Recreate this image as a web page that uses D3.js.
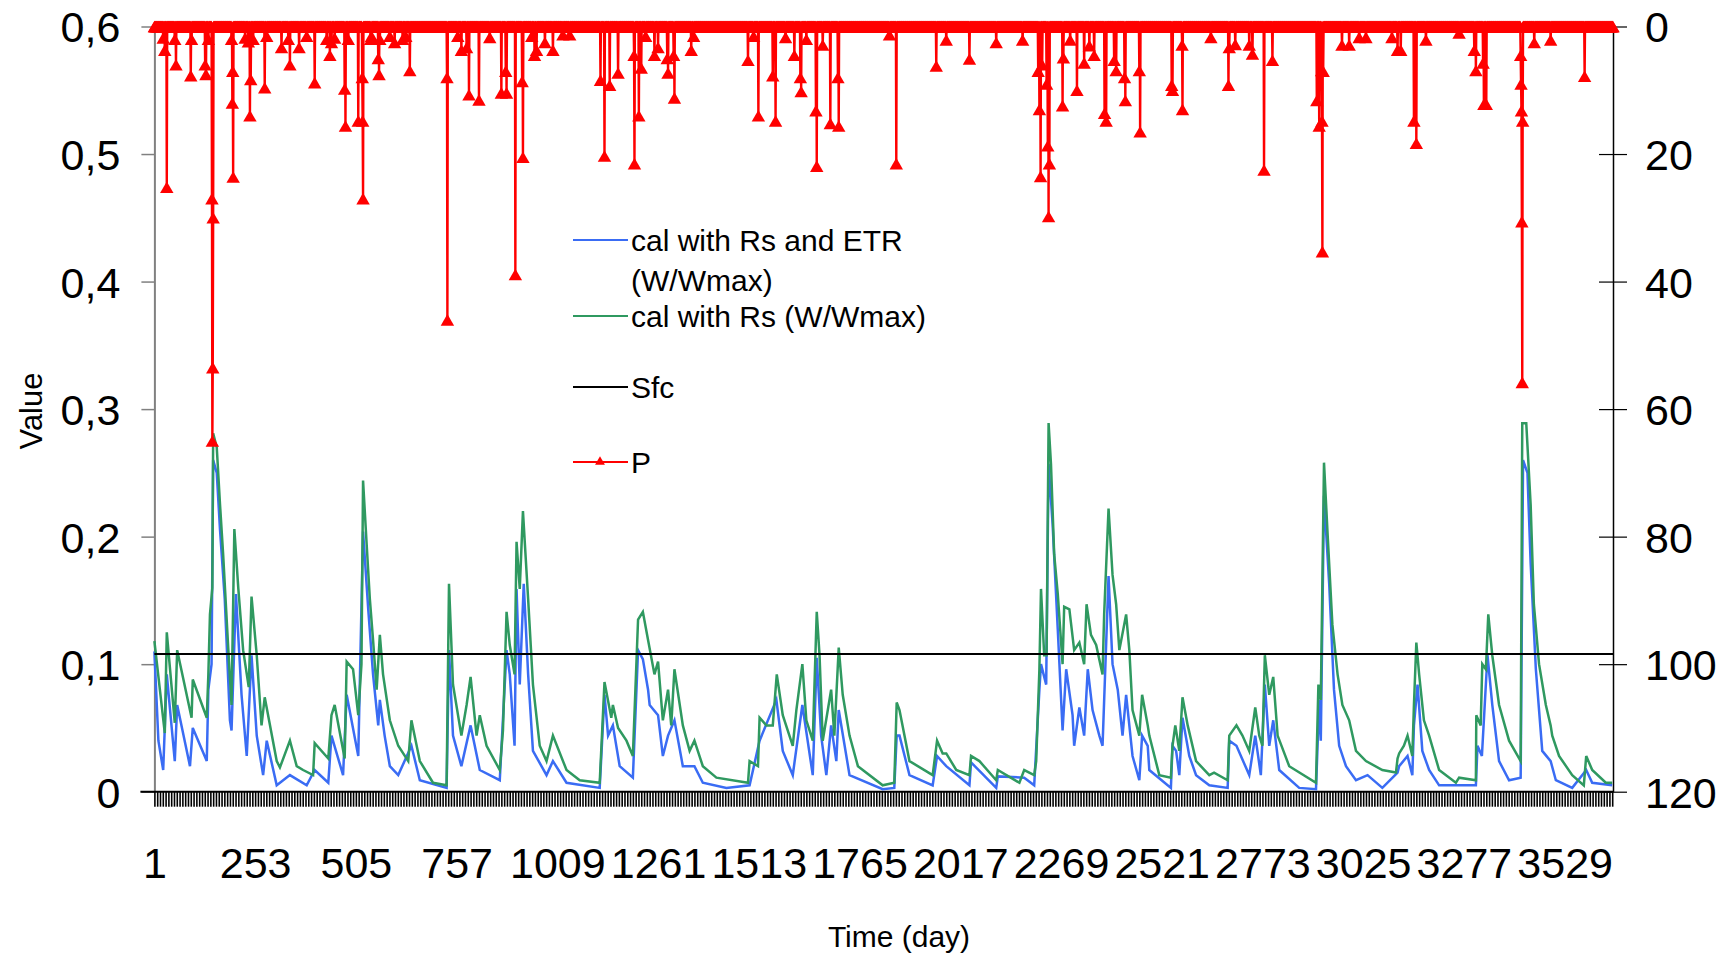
<!DOCTYPE html>
<html>
<head>
<meta charset="utf-8">
<script src="https://cdn.jsdelivr.net/npm/d3@7"></script>
<style>
  body { margin: 0; background: #fff; }
  text { font-family: "Liberation Sans", Arial, sans-serif; fill: #000; }
</style>
</head>
<body>
<div id="chart"></div>
<script>
// number of simulated days
const nDays = 3650;
const xLabels = [1, 253, 505, 757, 1009, 1261, 1513, 1765, 2017, 2269, 2521, 2773, 3025, 3277, 3529];
const valueTicks = [0, 0.1, 0.2, 0.3, 0.4, 0.5, 0.6];
const rainTicks = [0, 20, 40, 60, 80, 100, 120];
const sfc = 0.108;

// cal with Rs and ETR (W/Wmax) : [day, value]
const wEtr = [
  [1,0.11],[11,0.04],[23,0.017],[32,0.092],[52,0.024],[58,0.068],[90,0.02],[97,0.05],[132,0.024],[136,0.08],
  [144,0.1],[148,0.26],[157,0.25],[165,0.206],[177,0.151],[190,0.056],[194,0.048],[205,0.155],[219,0.076],[232,0.028],
  [244,0.107],[257,0.044],[273,0.013],[282,0.04],[307,0.005],[340,0.013],[382,0.005],[402,0.017],[436,0.007],[444,0.044],
  [473,0.013],[482,0.076],[511,0.028],[523,0.204],[536,0.143],[548,0.092],[561,0.052],[565,0.072],[577,0.044],[590,0.02],
  [611,0.013],[644,0.036],[665,0.009],[732,0.003],[738,0.111],[748,0.044],[769,0.02],[792,0.052],[815,0.017],[865,0.009],
  [882,0.111],[890,0.092],[902,0.036],[907,0.159],[915,0.084],[925,0.163],[936,0.092],[948,0.032],[982,0.013],[998,0.024],
  [1032,0.007],[1115,0.003],[1127,0.076],[1136,0.044],[1148,0.052],[1165,0.02],[1198,0.011],[1211,0.111],[1223,0.104],[1236,0.08],
  [1240,0.068],[1261,0.06],[1273,0.028],[1286,0.044],[1302,0.056],[1323,0.02],[1352,0.02],[1373,0.007],[1432,0.003],[1490,0.005],
  [1515,0.04],[1557,0.072],[1573,0.032],[1598,0.013],[1622,0.068],[1648,0.013],[1658,0.105],[1669,0.044],[1682,0.013],[1694,0.052],
  [1707,0.024],[1713,0.064],[1740,0.013],[1823,0.002],[1852,0.003],[1858,0.044],[1865,0.044],[1890,0.013],[1948,0.005],[1959,0.028],
  [1982,0.02],[2040,0.005],[2044,0.023],[2107,0.003],[2111,0.012],[2177,0.011],[2202,0.005],[2215,0.08],[2219,0.1],[2232,0.084],
  [2238,0.257],[2248,0.21],[2261,0.127],[2273,0.048],[2282,0.096],[2298,0.06],[2302,0.036],[2315,0.066],[2327,0.044],[2336,0.096],
  [2348,0.064],[2365,0.044],[2373,0.036],[2388,0.169],[2398,0.1],[2411,0.08],[2423,0.044],[2432,0.076],[2448,0.028],[2465,0.009],
  [2472,0.044],[2486,0.036],[2490,0.017],[2544,0.003],[2548,0.036],[2557,0.032],[2565,0.013],[2573,0.058],[2590,0.028],[2607,0.013],
  [2640,0.005],[2686,0.003],[2690,0.04],[2708,0.036],[2740,0.013],[2755,0.044],[2769,0.013],[2779,0.084],[2790,0.036],[2800,0.056],
  [2815,0.017],[2865,0.003],[2907,0.002],[2915,0.072],[2919,0.04],[2927,0.232],[2940,0.163],[2952,0.08],[2965,0.036],[2982,0.02],
  [3007,0.009],[3036,0.013],[3073,0.003],[3111,0.015],[3115,0.02],[3136,0.028],[3148,0.013],[3152,0.052],[3161,0.084],[3173,0.032],
  [3190,0.017],[3215,0.005],[3307,0.005],[3311,0.036],[3322,0.028],[3336,0.107],[3348,0.068],[3365,0.024],[3390,0.009],[3419,0.011],
  [3425,0.26],[3436,0.25],[3444,0.179],[3457,0.096],[3473,0.032],[3494,0.024],[3507,0.009],[3548,0.003],[3583,0.017],[3598,0.007],
  [3648,0.005]
];

// cal with Rs (W/Wmax) : [day, value]
const wRs = [
  [1,0.118],[27,0.046],[32,0.125],[52,0.054],[58,0.111],[94,0.058],[97,0.088],[132,0.058],[136,0.092],[140,0.139],
  [146,0.16],[148,0.281],[157,0.27],[165,0.226],[173,0.186],[186,0.111],[194,0.068],[201,0.206],[211,0.159],[223,0.111],
  [237,0.082],[244,0.153],[257,0.107],[269,0.052],[277,0.074],[307,0.024],[315,0.019],[340,0.04],[357,0.02],[373,0.017],
  [398,0.013],[402,0.038],[436,0.026],[444,0.06],[452,0.068],[477,0.026],[482,0.102],[498,0.096],[511,0.06],[519,0.1],
  [523,0.244],[532,0.194],[540,0.151],[548,0.119],[557,0.08],[565,0.123],[573,0.092],[590,0.056],[611,0.036],[636,0.024],
  [644,0.056],[665,0.024],[698,0.007],[732,0.005],[738,0.163],[748,0.084],[769,0.044],[782,0.068],[792,0.09],[807,0.044],
  [815,0.06],[832,0.036],[865,0.017],[873,0.048],[882,0.141],[890,0.115],[902,0.092],[907,0.196],[915,0.159],[923,0.22],
  [936,0.151],[948,0.084],[965,0.036],[982,0.024],[998,0.044],[1032,0.017],[1065,0.009],[1115,0.007],[1127,0.086],[1144,0.058],
  [1148,0.068],[1161,0.05],[1182,0.04],[1198,0.028],[1211,0.135],[1223,0.141],[1236,0.119],[1252,0.092],[1261,0.102],[1273,0.056],
  [1286,0.08],[1294,0.052],[1302,0.096],[1323,0.052],[1340,0.032],[1352,0.04],[1373,0.02],[1407,0.011],[1486,0.007],[1490,0.024],
  [1511,0.02],[1515,0.058],[1532,0.052],[1548,0.052],[1558,0.092],[1573,0.06],[1598,0.036],[1607,0.064],[1622,0.1],[1632,0.056],
  [1648,0.04],[1658,0.141],[1665,0.107],[1673,0.04],[1694,0.08],[1702,0.044],[1713,0.113],[1723,0.076],[1740,0.044],[1761,0.02],
  [1823,0.005],[1852,0.007],[1858,0.07],[1865,0.064],[1890,0.024],[1948,0.013],[1959,0.04],[1973,0.03],[1982,0.03],[2007,0.017],
  [2040,0.013],[2044,0.028],[2065,0.024],[2107,0.009],[2111,0.017],[2165,0.007],[2177,0.017],[2202,0.013],[2207,0.024],[2215,0.096],
  [2219,0.159],[2227,0.107],[2233,0.107],[2238,0.289],[2244,0.257],[2252,0.186],[2261,0.155],[2273,0.1],[2277,0.145],[2290,0.143],
  [2302,0.111],[2315,0.117],[2327,0.1],[2333,0.147],[2344,0.123],[2357,0.115],[2373,0.092],[2377,0.139],[2388,0.222],[2398,0.17],
  [2407,0.147],[2415,0.111],[2432,0.139],[2440,0.111],[2448,0.064],[2465,0.044],[2472,0.076],[2486,0.052],[2490,0.044],[2515,0.013],
  [2544,0.011],[2548,0.036],[2555,0.052],[2565,0.032],[2573,0.074],[2586,0.052],[2607,0.024],[2640,0.013],[2652,0.015],[2686,0.009],
  [2690,0.044],[2708,0.052],[2723,0.044],[2740,0.032],[2755,0.066],[2765,0.044],[2773,0.036],[2779,0.107],[2790,0.076],[2800,0.09],
  [2811,0.044],[2840,0.02],[2907,0.007],[2913,0.084],[2919,0.072],[2927,0.258],[2936,0.202],[2948,0.131],[2961,0.092],[2973,0.068],
  [2990,0.056],[3007,0.032],[3032,0.024],[3073,0.017],[3107,0.015],[3111,0.026],[3115,0.03],[3127,0.036],[3136,0.044],[3148,0.028],
  [3152,0.068],[3158,0.117],[3165,0.092],[3177,0.056],[3190,0.044],[3215,0.017],[3257,0.007],[3265,0.011],[3307,0.009],[3308,0.06],
  [3319,0.052],[3323,0.1],[3332,0.096],[3338,0.139],[3348,0.107],[3365,0.068],[3390,0.04],[3419,0.024],[3423,0.289],[3433,0.289],
  [3444,0.225],[3452,0.147],[3465,0.1],[3482,0.068],[3494,0.052],[3498,0.044],[3515,0.028],[3548,0.013],[3577,0.005],[3583,0.028],
  [3598,0.017],[3632,0.007],[3648,0.007]
];

// rainy days P (mm) : [day, mm], every other day is 0
const rainDays = [
  [23,1.8],[27,3.7],[32,25.2],[52,2],[55,6],[92,7.7],[94,2],[128,6],[130,7.5],[136,2],[145,27],[146,65],[147,53.5],[148,30],
  [194,2],[196,12],[197,7],[198,23.6],[228,1.8],[236,2.4],[240,14],[242,8.3],[248,2],[277,9.6],[282,1.5],[319,3.3],[336,2],[340,6],
  [363,3.3],[382,1.5],[402,8.8],[432,2],[440,4.5],[444,2.5],[452,1.8],[477,9.8],[479,15.6],[486,2],[511,14.8],[521,8],[522,14.8],
  [523,27],[542,2],[544,1.5],[561,5],[563,7.5],[565,2],[590,1.5],[602,2.5],[622,2],[630,1.5],[640,6.9],[733,8],[734,46],[760,1.5],
  [769,3.7],[782,3.3],[788,10.7],[813,11.5],[840,1.7],[869,10.4],[880,7],[882,10.4],[904,38.9],[921,8.6],[923,20.5],[945,1.5],
  [952,4.5],[957,3.7],[978,2.5],[998,3.7],[1023,1.3],[1040,1.3],[1117,8.4],[1127,20.3],[1140,9.2],[1161,7.3],[1201,4.5],[1202,21.5],
  [1213,14],[1219,6.5],[1230,1.5],[1252,4.5],[1261,3.3],[1284,5],[1286,7.3],[1300,4.5],[1302,11.2],[1344,3.7],[1350,1.5],[1486,5.3],
  [1500,1.5],[1512,14],[1548,7.7],[1555,14.8],[1580,1.7],[1602,4.5],[1617,8],[1619,10.2],[1632,2],[1656,13.2],[1658,21.9],[1673,2.9],
  [1692,15.2],[1711,8],[1713,15.6],[1840,1.3],[1857,21.5],[1957,6.2],[1982,2.1],[2040,5.1],[2107,2.5],[2173,2.1],[2212,7],[2215,13],
  [2218,23.5],[2222,6],[2233,9],[2236,18.7],[2238,29.8],[2240,21.5],[2273,12.4],[2275,4.9],[2292,2.1],[2309,10],[2327,5.7],[2340,3],
  [2352,4.5],[2378,13.6],[2382,14.8],[2402,5.3],[2407,6.9],[2428,8],[2430,11.6],[2465,6.9],[2467,16.5],[2546,9.2],[2548,10],
  [2572,2.9],[2573,13],[2644,1.7],[2688,9.2],[2690,3.3],[2705,2.8],[2740,2.9],[2748,4.3],[2777,22.5],[2798,5.3],[2909,11.6],
  [2915,15.6],[2921,6.9],[2922,14.8],[2923,35.3],[2925,7],[2972,2.9],[2990,2.9],[3015,1.7],[3032,1.7],[3097,1.7],[3111,3.7],
  [3119,3.7],[3152,14.8],[3158,18.3],[3182,2.1],[3265,1],[3303,3.7],[3307,6.9],[3325,5.7],[3327,12.2],[3333,12.2],[3419,4.5],
  [3420,9],[3421,13.2],[3422,30.6],[3423,55.8],[3424,14.8],[3453,2.5],[3494,2.1],[3579,7.8]
];

const legendItems = [
  {label: ["cal with Rs and ETR", "(W/Wmax)"], color: "#3a6cf4", y: 240},
  {label: ["cal with Rs (W/Wmax)"], color: "#2f9960", y: 316},
  {label: ["Sfc"], color: "#000000", y: 387},
  {label: ["P"], color: "#ff0000", y: 462, marker: true}
];

function renderChart() {
  const width = 1729, height = 957;
  const left = 154.4, right = 1613, top = 26.5, bottom = 791.7;

  let svg = d3.select("#chart")
    .append("svg")
    .attr("width", width)
    .attr("height", height);

  svg.append("rect").attr("width", width).attr("height", height).attr("fill", "#fff");

  // scales
  const x = d3.scaleLinear().domain([1, nDays]).range([left, right]);
  const y = d3.scaleLinear().domain([0, 0.6]).range([bottom, top]);
  const yRain = d3.scaleLinear().domain([0, 120]).range([top, bottom]);

  // daily rain series
  const rainMap = new Map(rainDays);
  const rain = d3.range(1, nDays + 1).map(d => [d, rainMap.get(d) || 0]);

  // left axis
  const yAxis = svg.append("g")
    .attr("transform", `translate(${left},0)`)
    .call(d3.axisLeft(y).tickValues(valueTicks).tickSizeInner(13).tickSizeOuter(0).tickPadding(21)
      .tickFormat(d => d === 0 ? "0" : d3.format(".1f")(d).replace(".", ",")));
  yAxis.select(".domain").attr("stroke", "#808080").attr("stroke-width", 2);
  yAxis.selectAll(".tick line").attr("stroke", "#808080").attr("stroke-width", 1.5);
  yAxis.selectAll("text").style("font-size", "43px").attr("dy", "0.36em");

  // right axis (rain, reversed)
  const rAxis = svg.append("g")
    .attr("transform", `translate(${right},0)`)
    .call(d3.axisRight(yRain).tickValues(rainTicks).tickSizeInner(14).tickSizeOuter(0));
  rAxis.select(".domain").attr("stroke", "#000").attr("stroke-width", 1.5);
  rAxis.selectAll(".tick line").attr("x1", -14).attr("x2", 14).attr("stroke", "#000").attr("stroke-width", 1.2);
  rAxis.selectAll("text").attr("x", 32).style("font-size", "43px").attr("dy", "0.36em");

  // bottom axis: dense tick marks every 7 days
  const minorTicks = d3.range(1, nDays + 1, 7);
  const xMinor = svg.append("g")
    .attr("transform", `translate(0,${bottom})`)
    .call(d3.axisBottom(x).tickValues(minorTicks).tickSizeInner(15).tickSizeOuter(0).tickFormat(""));
  xMinor.select(".domain").remove();
  xMinor.selectAll(".tick line").attr("stroke", "#000").attr("stroke-width", 1.6);

  svg.append("line")
    .attr("x1", left - 14).attr("x2", right)
    .attr("y1", bottom).attr("y2", bottom)
    .attr("stroke", "#000").attr("stroke-width", 2);

  const xAxis = svg.append("g")
    .attr("transform", `translate(0,${bottom})`)
    .call(d3.axisBottom(x).tickValues(xLabels).tickSize(0).tickFormat(d3.format("d")));
  xAxis.select(".domain").remove();
  xAxis.selectAll("text").style("font-size", "43px").attr("y", 86).attr("dy", 0);

  // titles
  svg.append("text")
    .attr("x", 899).attr("y", 947)
    .attr("text-anchor", "middle")
    .style("font-size", "30px")
    .text("Time (day)");

  svg.append("text")
    .attr("transform", "translate(42,411) rotate(-90)")
    .attr("text-anchor", "middle")
    .style("font-size", "31px")
    .text("Value");

  // lines
  const line = d3.line().x(d => x(d[0])).y(d => y(d[1]));

  svg.append("path")
    .datum(wEtr)
    .attr("fill", "none")
    .attr("stroke", "#3a6cf4")
    .attr("stroke-width", 2.5)
    .attr("d", line);

  svg.append("path")
    .datum(wRs)
    .attr("fill", "none")
    .attr("stroke", "#2f9960")
    .attr("stroke-width", 2.5)
    .attr("d", line);

  svg.append("line")
    .attr("x1", left).attr("x2", right)
    .attr("y1", y(sfc)).attr("y2", y(sfc))
    .attr("stroke", "#000").attr("stroke-width", 2);

  // precipitation on secondary axis
  const rainLine = d3.line().x(d => x(d[0])).y(d => yRain(d[1]));
  svg.append("path")
    .datum(rain)
    .attr("fill", "none")
    .attr("stroke", "#ff0000")
    .attr("stroke-width", 2.4)
    .attr("d", rainLine);

  // triangle markers, centred on their box like the spreadsheet markers
  const triSize = 78;
  const triH = Math.sqrt(triSize * 4 / Math.sqrt(3)) * Math.sqrt(3) / 2;
  const tri = d3.symbol().type(d3.symbolTriangle).size(triSize);
  svg.append("g")
    .selectAll("path")
    .data(rain)
    .enter()
    .append("path")
    .attr("d", tri)
    .attr("transform", d => `translate(${x(d[0])},${yRain(d[1]) + triH / 6})`)
    .attr("fill", "#ff0000");

  // legend
  const lg = svg.append("g");
  legendItems.forEach(function(item) {
    lg.append("line")
      .attr("x1", 573).attr("x2", 628)
      .attr("y1", item.y).attr("y2", item.y)
      .attr("stroke", item.color).attr("stroke-width", 2);
    if (item.marker) {
      lg.append("path")
        .attr("d", d3.symbol().type(d3.symbolTriangle).size(42))
        .attr("transform", `translate(600,${item.y})`)
        .attr("fill", item.color);
    }
    item.label.forEach(function(t, i) {
      lg.append("text")
        .attr("x", 631)
        .attr("y", item.y + 11 + i * 40)
        .style("font-size", "30px")
        .text(t);
    });
  });
}

renderChart();
</script>
</body>
</html>
